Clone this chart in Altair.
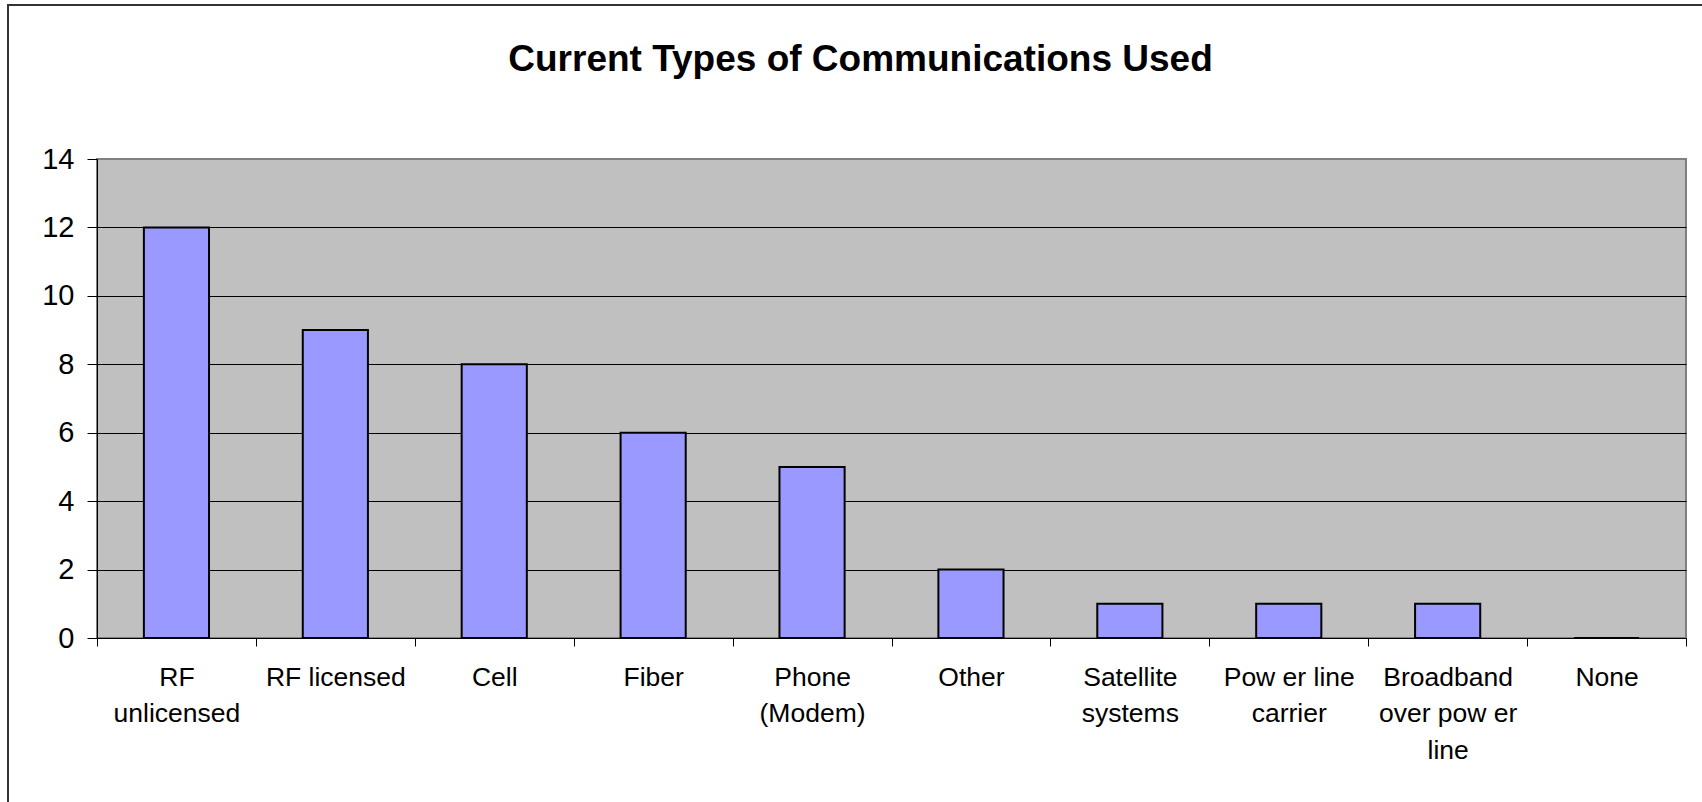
import altair as alt
import pandas as pd

categories = [
    "RF|unlicensed", "RF licensed", "Cell", "Fiber", "Phone|(Modem)",
    "Other", "Satellite|systems", "Pow er line|carrier",
    "Broadband|over pow er|line", "None",
]
counts = [12, 9, 8, 6, 5, 2, 1, 1, 1, 0]
y_ticks = [0, 2, 4, 6, 8, 10, 12, 14]

df = pd.DataFrame({"category": categories, "count": counts})

W, H = 1589, 479
FONT = "Liberation Sans"

bars = alt.Chart(df).mark_bar(
    fill="#9999FF", stroke="black", strokeWidth=2,
    width=alt.RelativeBandSize(0.41),
).encode(
    x=alt.X(
        "category:N", sort=categories,
        scale=alt.Scale(paddingInner=0, paddingOuter=0),
        axis=alt.Axis(
            title=None, labelAngle=0, labelExpr="split(datum.label, '|')",
            tickBand="extent", grid=False,
            domainColor="black", domainWidth=1, tickColor="black", tickSize=8,
            labelFontSize=26.5, labelLineHeight=36.5, labelPadding=18,
            labelColor="black", labelFont=FONT, labelLimit=400,
        ),
    ),
    y=alt.Y(
        "count:Q", scale=alt.Scale(domain=[0, 14], nice=False),
        axis=alt.Axis(
            values=y_ticks, title=None, grid=True,
            gridColor={"condition": {"test": "datum.value === 14", "value": "#808080"}, "value": "black"},
            gridWidth=1,
            domainColor="black", domainWidth=1, tickColor="black", tickSize=10,
            labelFontSize=29, labelPadding=13, labelColor="black", labelFont=FONT,
        ),
    ),
)

border = alt.Chart(pd.DataFrame({"k": [0]})).mark_rect(
    filled=False, stroke="#333333", strokeWidth=2,
).encode(
    x=alt.value(-89), x2=alt.value(W + 40),
    y=alt.value(-154), y2=alt.value(H + 200),
)

chart = alt.layer(bars, border).properties(
    width=W, height=H,
    title=alt.TitleParams(
        "Current Types of Communications Used",
        fontSize=37, fontWeight="bold", font=FONT, color="black",
        anchor="middle", dx=-31, offset=-75,
    ),
    autosize=alt.AutoSizeParams(type="none"),
    padding={"left": 97, "top": 159, "right": 16, "bottom": 164},
    background="white",
).configure_view(
    fill="#C0C0C0", stroke="#808080", strokeWidth=2,
)

chart.save("out.html", embed_options={"renderer": "svg", "actions": False})
